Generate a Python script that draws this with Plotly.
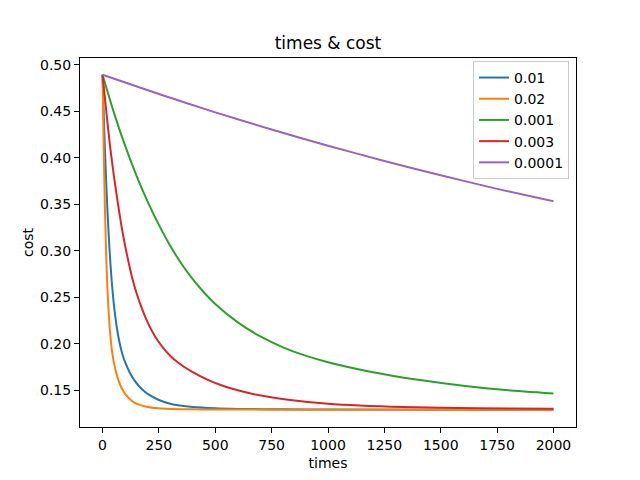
import plotly.graph_objects as go

# learning rate -> (times, cost)
labels = ['0.01', '0.02', '0.001', '0.003', '0.0001']
colors = ['#1f77b4', '#ff7f0e', '#2ca02c', '#d62728', '#9467bd']

t_001 = [0, 5, 10, 15, 20, 25, 30, 35, 40, 45, 50, 60, 70, 80, 90, 100, 120, 140,
         160, 180, 200, 250, 300, 400, 500, 600, 800, 1000, 2000]
c_001 = [0.4895, 0.4490, 0.4131, 0.3812, 0.3529, 0.3278, 0.3054, 0.2860, 0.2693,
         0.2550, 0.2427, 0.2228, 0.2077, 0.1960, 0.1870, 0.1800, 0.1692, 0.1610,
         0.1546, 0.1497, 0.1458, 0.1393, 0.1353, 0.1317, 0.1303, 0.1297, 0.1292,
         0.1290, 0.1288]

t_002 = [0, 2.5, 5, 7.5, 10, 12.5, 15, 17.5, 20, 22.5, 25, 30, 35, 40, 45, 50, 60,
         70, 80, 90, 100, 125, 150, 200, 250, 300, 400, 500, 1000, 2000]
c_002 = [0.4895, 0.4490, 0.4131, 0.3812, 0.3529, 0.3278, 0.3054, 0.2860, 0.2693,
         0.2550, 0.2427, 0.2228, 0.2077, 0.1960, 0.1870, 0.1800, 0.1692, 0.1610,
         0.1546, 0.1497, 0.1458, 0.1393, 0.1353, 0.1317, 0.1303, 0.1297, 0.1292,
         0.1290, 0.1288, 0.1288]

t_0001 = [0, 50, 100, 150, 200, 250, 300, 350, 400, 450, 500, 600, 700, 800, 900,
          1000, 1200, 1400, 1600, 1800, 2000]
c_0001 = [0.4895, 0.4490, 0.4131, 0.3812, 0.3529, 0.3278, 0.3054, 0.2860, 0.2693,
          0.2550, 0.2427, 0.2228, 0.2077, 0.1960, 0.1870, 0.1800, 0.1692, 0.1610,
          0.1546, 0.1497, 0.1462]

t_0003 = [0, 17, 33, 50, 67, 83, 100, 117, 133, 150, 167, 200, 233, 267, 300, 333,
          400, 467, 533, 600, 667, 833, 1000, 1333, 1667, 2000]
c_0003 = [0.4895, 0.4490, 0.4131, 0.3812, 0.3529, 0.3278, 0.3054, 0.2860, 0.2693,
          0.2550, 0.2427, 0.2228, 0.2077, 0.1960, 0.1870, 0.1800, 0.1692, 0.1610,
          0.1546, 0.1497, 0.1458, 0.1393, 0.1353, 0.1317, 0.1303, 0.1298]

t_00001 = [0, 250, 500, 750, 1000, 1250, 1500, 1750, 2000]
c_00001 = [0.4895, 0.4687, 0.4490, 0.4305, 0.4131, 0.3967, 0.3812, 0.3666, 0.3532]

series = [(t_001, c_001), (t_002, c_002), (t_0001, c_0001),
          (t_0003, c_0003), (t_00001, c_00001)]

x_ticks = [0, 250, 500, 750, 1000, 1250, 1500, 1750, 2000]
y_ticks = [0.15, 0.20, 0.25, 0.30, 0.35, 0.40, 0.45, 0.50]

font = 'DejaVu Sans'

fig = go.Figure()
for (t, c), name, col in zip(series, labels, colors):
    fig.add_trace(go.Scatter(x=t, y=c, mode='lines', name=name,
                             line=dict(color=col, width=2, shape='spline', smoothing=0.6)))

axis_style = dict(showline=True, linecolor='black', linewidth=1, mirror=True,
                  ticks='outside', ticklen=5, tickcolor='black', showgrid=False,
                  zeroline=False, tickfont=dict(family=font, size=14, color='black'))

fig.update_xaxes(range=[-100, 2100], tickvals=x_ticks,
                 title=dict(text='times', standoff=6,
                            font=dict(family=font, size=14, color='black')),
                 **axis_style)
fig.update_yaxes(range=[0.1102, 0.5075], tickvals=y_ticks, tickformat='.2f',
                 title=dict(text='cost', standoff=3,
                            font=dict(family=font, size=14, color='black')),
                 **axis_style)

# page body adds an 8px offset, so margins are shifted to compensate
fig.update_layout(
    width=640, height=480,
    margin=dict(l=72, r=72, t=50, b=61),
    plot_bgcolor='white', paper_bgcolor='white',
    title=dict(text='times & cost', x=0.5, xanchor='center', y=0.927, yanchor='middle',
               font=dict(family=font, size=17, color='black')),
    legend=dict(x=0.986, y=0.992, xanchor='right', yanchor='top',
                bgcolor='rgba(255,255,255,0.8)', bordercolor='#cccccc', borderwidth=1,
                font=dict(family=font, size=14, color='black')),
)

fig.write_html("out.html")
